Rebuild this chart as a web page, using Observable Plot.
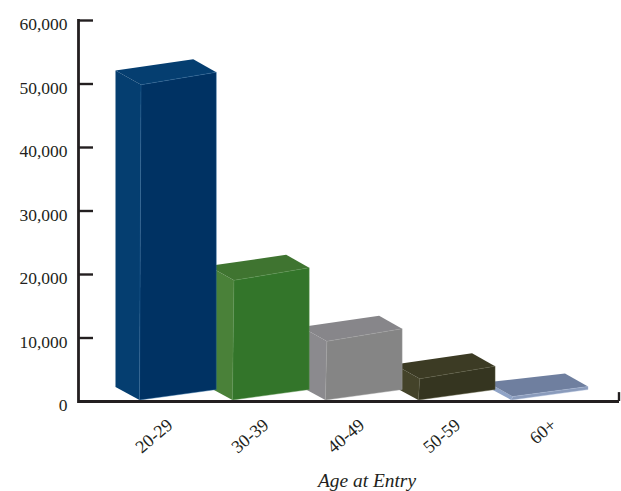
<!DOCTYPE html>
<html>
<head>
<meta charset="utf-8">
<style>
html,body{margin:0;padding:0;background:#fff;}
svg{display:block;}
</style>
<script src="https://cdn.jsdelivr.net/npm/d3@7"></script>
<script src="https://cdn.jsdelivr.net/npm/@observablehq/plot@0.6"></script>
</head>
<body>
<div id="chart"></div>
<script>
const categories = ["20-29", "30-39", "40-49", "50-59", "60+"];
const counts = [49800, 19000, 9400, 3500, 700];
const tickValues = [0, 10000, 20000, 30000, 40000, 50000, 60000];
const frontColors = ["#003263", "#33752a", "#858585", "#353520", "#8a9bbb"];
const sideColors = ["#053e70", "#4a8139", "#8b8a8e", "#44432a", "#8fa3c6"];
const topColors = ["#053e70", "#3f7430", "#87868a", "#3c3b24", "#6f7f9f"];
const edgeColors = ["#2a689c", "#5c9350", "#a0a0a0", "#5c5c40", "#a9bbd8"];

const rows = categories.map((category, i) => ({category, count: counts[i], i}));
const serif = "'Liberation Serif', serif";

function bars3d(index, scales, values, dims) {
  const g = d3.create("svg:g");
  const w = scales.x.bandwidth();
  const y0 = scales.y(0);
  const pts = a => a.map(p => p.join(",")).join(" ");
  for (const k of [...index].reverse()) {
    const d = rows[k];
    const fx = scales.x(d.category);
    const top = scales.y(d.count);
    const rise = d.count < 2000 ? 10 : 12.6;
    const TL = [fx, top];
    const TR = [fx + w, top - rise];
    const BR = [fx + w, y0 - 11.5];
    const BL = [fx - 1.5, y0 - 1];
    const backL = [fx - 25.5, top - 14.3];
    const backR = [fx + w - 23, top - rise - 13];
    const backB = [fx - 25.5, y0 - 14];
    g.append("polygon").attr("points", pts([backL, TL, BL, backB])).attr("fill", sideColors[k]);
    g.append("polygon").attr("points", pts([backL, backR, TR, TL])).attr("fill", topColors[k]);
    g.append("polygon").attr("points", pts([TL, TR, BR, BL])).attr("fill", frontColors[k])
      .attr("stroke", edgeColors[k]).attr("stroke-width", 0.8).attr("stroke-opacity", 0.55);
  }
  return g.node();
}

function endTick(index, scales, values, dims) {
  return d3.create("svg:line")
    .attr("x1", dims.width - dims.marginRight).attr("x2", dims.width - dims.marginRight)
    .attr("y1", scales.y(0)).attr("y2", scales.y(1400))
    .attr("stroke", "#231f20").attr("stroke-width", 2.4).node();
}

function spreadLabels(index, scales, values, dims, context, next) {
  const mid = d3.mean(values.x);
  const x = Float64Array.from(values.x, px => mid - 3 + (px - mid) * 1.032);
  return next(index, scales, {...values, x}, dims, context);
}

const plot = Plot.plot({
  width: 621,
  height: 491,
  marginLeft: 78,
  marginRight: 2,
  marginTop: 20,
  marginBottom: 90,
  style: {background: "#fff", color: "#231f20", fontFamily: serif},
  x: {type: "band", domain: categories, range: [141, 588], paddingInner: 0.19, paddingOuter: 0, round: false, axis: null},
  y: {domain: [0, 60000], label: null, axis: null},
  marks: [
    Plot.barY(rows, {x: "category", y: "count", render: bars3d}),
    Plot.ruleY([0], {stroke: "#231f20", strokeWidth: 2.8}),
    Plot.frame({anchor: "left", stroke: "#231f20", strokeWidth: 2.8}),
    endTick,
    Plot.axisY(tickValues, {
      tickSize: -15, strokeWidth: 2.4, stroke: "#231f20",
      tickFormat: () => "", label: null
    }),
    Plot.axisY(tickValues, {
      tickSize: 0, tickPadding: 11, dy: 4,
      tickFormat: d3.format(","), fontSize: 17.5, label: null, fill: "#231f20", textStroke: "none"
    }),
    Plot.text(categories, {
      x: d => d, text: d => d, frameAnchor: "bottom", dy: 21,
      rotate: -40, textAnchor: "end", lineAnchor: "middle",
      fontSize: 18, fill: "#231f20", render: spreadLabels
    }),
    Plot.text(["Age at Entry"], {
      frameAnchor: "bottom", dy: 85, dx: 18, fontSize: 19.4, fontStyle: "italic", fill: "#231f20"
    })
  ]
});
document.getElementById("chart").appendChild(plot);
</script>
</body>
</html>
